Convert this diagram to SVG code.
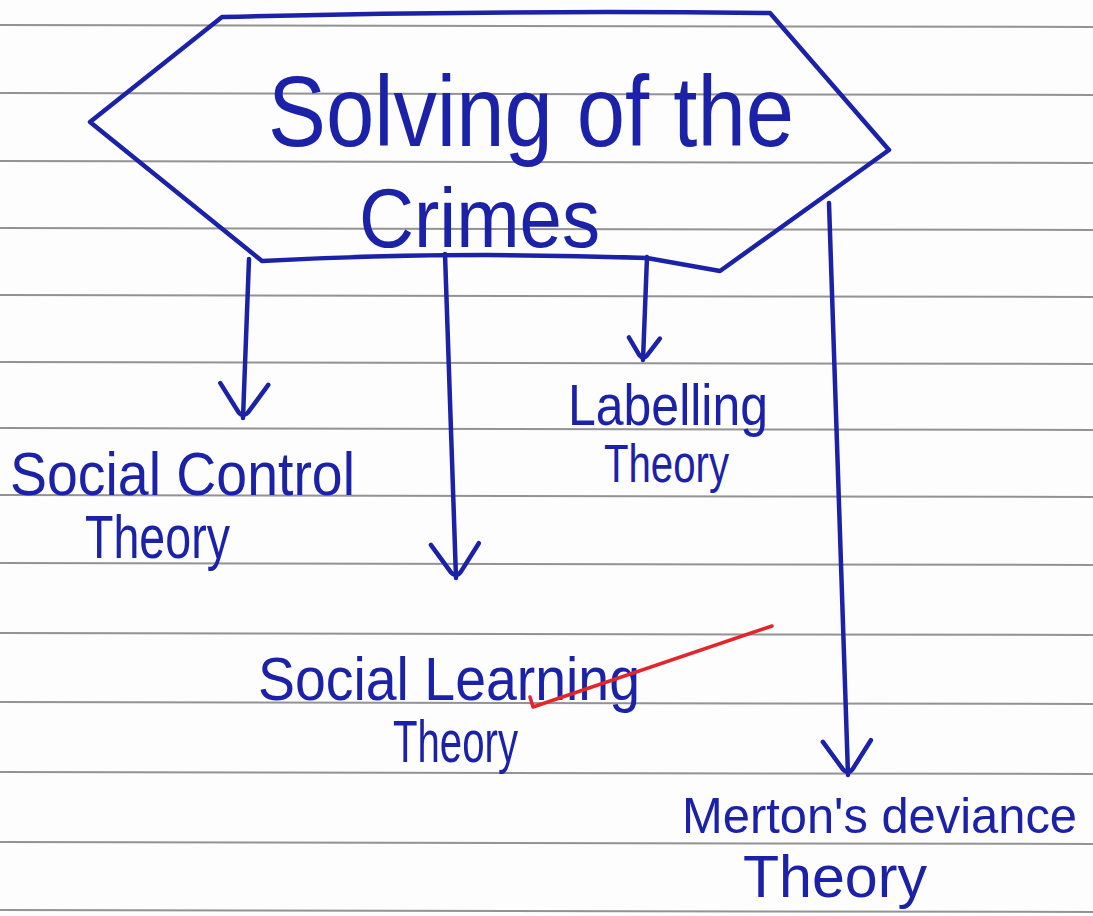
<svg xmlns="http://www.w3.org/2000/svg" width="1093" height="916" viewBox="0 0 1093 916">
  <defs>
    <style>
      .rule { stroke: #6f6f6f; stroke-width: 2; opacity: 0.75; fill: none; }
      .ink { stroke: #1b22a8; stroke-width: 4.5; fill: none; stroke-linecap: round; stroke-linejoin: round; }
      .txt { font-family: "Liberation Sans", "DejaVu Sans", sans-serif; fill: #1b22a8; }
      .red { stroke: #e3262b; stroke-width: 3.5; fill: none; stroke-linecap: round; stroke-linejoin: round; }
    </style>
    <marker id="vbig" markerUnits="userSpaceOnUse" orient="auto" refX="0" refY="0" markerWidth="80" markerHeight="80" overflow="visible">
      <path d="M-34,-24 L-6,-5 Q0,0 -6,5 L-34,24" stroke="#1b22a8" stroke-width="4.5" fill="none" stroke-linecap="round" stroke-linejoin="round"/>
    </marker>
    <marker id="vsmall" markerUnits="userSpaceOnUse" orient="auto" refX="0" refY="0" markerWidth="60" markerHeight="60" overflow="visible">
      <path d="M-22,-16 L-5,-4 Q0,0 -5,4 L-22,15" stroke="#1b22a8" stroke-width="4.5" fill="none" stroke-linecap="round" stroke-linejoin="round"/>
    </marker>
  </defs>

  <rect x="0" y="0" width="1093" height="916" fill="#fdfdfd"/>

  <g id="paper-lines">
    <line class="rule" x1="0" y1="25" x2="1093" y2="27"/>
    <line class="rule" x1="0" y1="93" x2="1093" y2="95"/>
    <line class="rule" x1="0" y1="161" x2="1093" y2="163"/>
    <line class="rule" x1="0" y1="228" x2="1093" y2="230"/>
    <line class="rule" x1="0" y1="295" x2="1093" y2="297"/>
    <line class="rule" x1="0" y1="362" x2="1093" y2="364"/>
    <line class="rule" x1="0" y1="428" x2="1093" y2="430"/>
    <line class="rule" x1="0" y1="495" x2="1093" y2="497"/>
    <line class="rule" x1="0" y1="563" x2="1093" y2="565"/>
    <line class="rule" x1="0" y1="633" x2="1093" y2="635"/>
    <line class="rule" x1="0" y1="702" x2="1093" y2="704"/>
    <line class="rule" x1="0" y1="772" x2="1093" y2="774"/>
    <line class="rule" x1="0" y1="842" x2="1093" y2="844"/>
    <line class="rule" x1="0" y1="910" x2="1093" y2="912"/>
  </g>

  <g id="node-solving">
    <path class="ink" d="M222,17 Q500,10 770,13 L889,150 L720,271 L647,258 Q450,251 262,261 L90,122 Z"/>
    <text class="txt" x="268" y="146" font-size="100" textLength="526" lengthAdjust="spacingAndGlyphs">Solving of the</text>
    <text class="txt" x="359" y="247" font-size="84" textLength="241" lengthAdjust="spacingAndGlyphs">Crimes</text>
  </g>

  <g id="connectors">
    <path class="ink" d="M249,259 L243,418" marker-end="url(#vbig)"/>
    <path class="ink" d="M445,254 L456,578" marker-end="url(#vbig)"/>
    <path class="ink" d="M647,257 L643,360" marker-end="url(#vsmall)"/>
    <path class="ink" d="M829,203 L848,775" marker-end="url(#vbig)"/>
  </g>

  <g id="node-social-control">
    <text class="txt" x="10" y="495" font-size="62" textLength="345" lengthAdjust="spacingAndGlyphs">Social Control</text>
    <text class="txt" x="85" y="558" font-size="62" textLength="145" lengthAdjust="spacingAndGlyphs">Theory</text>
  </g>

  <g id="node-labelling">
    <text class="txt" x="568" y="425" font-size="58" textLength="200" lengthAdjust="spacingAndGlyphs">Labelling</text>
    <text class="txt" x="604" y="482" font-size="54" textLength="125" lengthAdjust="spacingAndGlyphs">Theory</text>
  </g>

  <g id="node-social-learning">
    <text class="txt" x="258" y="700" font-size="62" textLength="382" lengthAdjust="spacingAndGlyphs">Social Learning</text>
    <text class="txt" x="393" y="762" font-size="60" textLength="125" lengthAdjust="spacingAndGlyphs">Theory</text>
    <polyline class="red" points="530,697 533,707 772,626"/>
  </g>

  <g id="node-merton">
    <text class="txt" x="682" y="833" font-size="50" textLength="395" lengthAdjust="spacingAndGlyphs">Merton's deviance</text>
    <text class="txt" x="743" y="897" font-size="60" textLength="184" lengthAdjust="spacingAndGlyphs">Theory</text>
  </g>
</svg>
